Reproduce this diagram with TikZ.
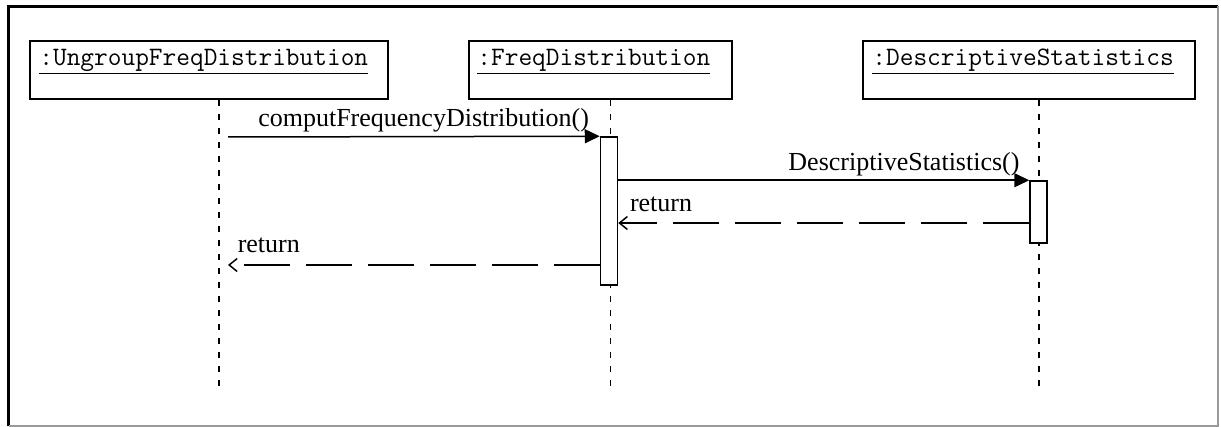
\documentclass[tikz,border=0pt]{standalone}
\usepackage{fontspec}
\setmainfont{Liberation Serif}
\usepackage{tikz}
\usetikzlibrary{positioning, arrows.meta}
\usetikzlibrary{calc}

\tikzset{
	obj/.style={draw, line width=1.6pt, minimum height=58pt, inner sep=0pt},
	objname/.style={font=\fontsize{26.6}{30}\selectfont\ttfamily, inner sep=0pt},
	life/.style={line width=1.2pt, dash pattern=on 6pt off 8pt},
	act/.style={draw, fill=white, line width=1.5pt, minimum width=17pt, inner sep=0pt},
	call/.style={line width=1.5pt, -{Triangle[length=15pt, width=14pt]}},
	ret/.style={line width=1.5pt, dash pattern=on 46pt off 16pt, -{Straight Barb[length=8pt, width=13pt]}},
	msg/.style={font=\fontsize{26}{30}\selectfont, inner sep=0pt}
}

\begin{document}
\begin{tikzpicture}[x=1pt, y=-1pt]
		\useasboundingbox (0,0) rectangle (1221,427);
		\draw[line width=3pt] (8.5,426) -- (8.5,6.5) -- (1218,6.5);
		\draw[line width=1.5pt, black!40] (1218,6.5) -- (1218,426) -- (8.5,426);
		
		\node[obj, minimum width=358pt] (ungroup) at (209,70) {};
		\node[obj, minimum width=263pt] (freq) at (600.5,70) {};
		\node[obj, minimum width=332pt] (stats) at (1029,70) {};
		\node[objname, below right=9pt and 10pt of ungroup.north west] {\underline{:UngroupFreqDistribution}};
		\node[objname, below right=9pt and 9pt of freq.north west] {\underline{:FreqDistribution}};
		\node[objname, below right=9pt and 10pt of stats.north west] {\underline{:DescriptiveStatistics}};
		
		\coordinate (end-ungroup) at (219,392);
		\coordinate (end-freq) at (610.5,392);
		\coordinate (end-stats) at (1039,392);
		\draw[life] ([xshift=10pt]ungroup.south) -- (end-ungroup);
		\draw[life] ([xshift=10pt]freq.south) -- (end-freq);
		\draw[life] ([xshift=10pt]stats.south) -- (end-stats);
		
		\node[act, minimum height=148pt] (act-freq) at (609,211) {};
		\node[act, minimum height=62pt] (act-stats) at (1038.5,212) {};
		
		\coordinate (call1) at (228,137);
		\draw[call] (call1) -- (act-freq.north west)
			node[msg, anchor=base east, xshift=-10pt, yshift=10pt] {computFrequencyDistribution()};
		\draw[call] (act-freq.east |- act-stats.north) -- (act-stats.north west)
			node[msg, anchor=base east, xshift=-9pt, yshift=10pt] {DescriptiveStatistics()};
		
		\coordinate (back1) at ([yshift=-11pt]act-stats.west);
		\coordinate (back2) at ([yshift=-54pt]act-freq.west);
		\draw[ret] (back1) -- (back1 -| act-freq.east)
			node[msg, anchor=base west, xshift=11pt, yshift=11pt] {return};
		\draw[ret] (back2) -- (back2 -| call1)
			node[msg, anchor=base west, xshift=9pt, yshift=12pt] {return};
	\end{tikzpicture}
\end{document}
